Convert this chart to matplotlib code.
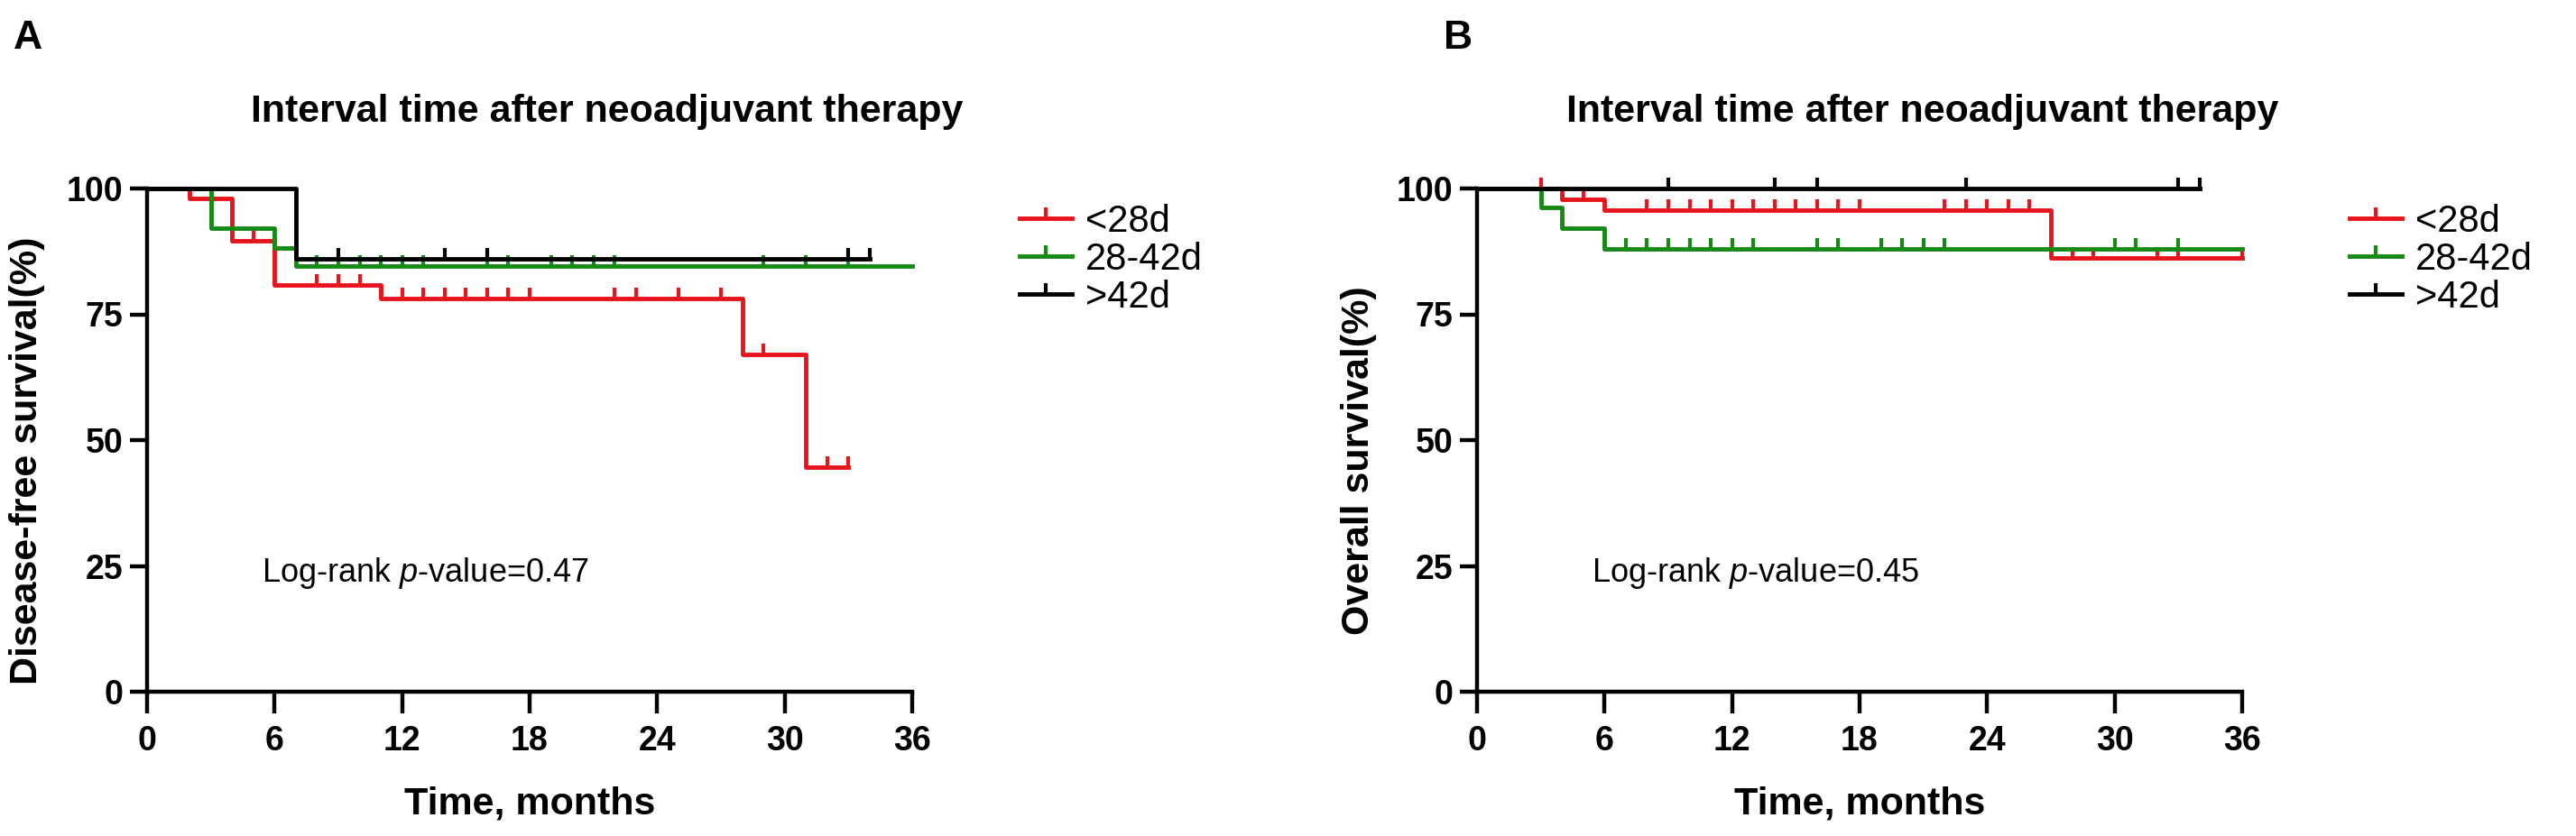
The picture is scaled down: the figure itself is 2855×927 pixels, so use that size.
import numpy as np
import matplotlib
matplotlib.use("Agg")
import matplotlib.pyplot as plt
from matplotlib.lines import Line2D

plt.rcParams['font.family'] = ['Liberation Sans', 'DejaVu Sans']
plt.rcParams['mathtext.fontset'] = 'custom'
plt.rcParams['mathtext.rm'] = 'Liberation Sans'
plt.rcParams['mathtext.it'] = 'Liberation Sans:italic'

groups = ['<28d', '28-42d', '>42d']
colors = ['#e8141b', '#168a16', '#000000']

# panel A: disease-free survival (step times, survival %, censor times)
dfs_times = [[0, 2, 4, 6, 11, 28, 31, 33],
             [0, 3, 6, 7, 36],
             [0, 7, 34]]
dfs_surv = [[100, 98.0, 89.6, 80.9, 78.1, 67.1, 44.7, 44.7],
            [100, 92.2, 88.1, 84.5, 84.5],
            [100, 86.0, 86.0]]
dfs_cens = [[5, 8, 9, 10, 12, 13, 14, 15, 16, 17, 18, 22, 23, 25, 27, 29, 32, 33],
            [8, 9, 10, 11, 12, 13, 16, 17, 19, 20, 21, 22, 29, 31, 33],
            [9, 14, 16, 33, 34]]

# panel B: overall survival
os_times = [[0, 4, 6, 27, 36],
            [0, 3, 4, 6, 36],
            [0, 34]]
os_surv = [[100, 97.8, 95.7, 86.2, 86.2],
           [100, 96.3, 92.2, 88.0, 88.0],
           [100, 100]]
os_cens = [[3, 5, 8, 9, 10, 11, 12, 13, 14, 15, 16, 17, 18, 22, 23, 24, 25, 26, 28, 29, 32, 33, 36],
           [7, 8, 9, 10, 11, 12, 13, 16, 17, 19, 20, 21, 22, 30, 31, 33],
           [9, 14, 16, 23, 33, 34]]

xticks = [0, 6, 12, 18, 24, 30, 36]
yticks = [0, 25, 50, 75, 100]

W, H = 2855, 927
fig = plt.figure(figsize=(W / 100, H / 100), dpi=100)


def px_axes(x0, x1, ytop, ybot):
    return fig.add_axes([x0 / W, 1 - ybot / H, (x1 - x0) / W, (ybot - ytop) / H])


def km_panel(ax, times, surv, cens, ylabel, ptext, ylpad):
    for t, s, c, col, lab in zip(times, surv, cens, colors, groups):
        ax.step(t, s, where='post', color=col, lw=3.5, clip_on=False, zorder=3)
        t = np.array(t)
        s = np.array(s)
        c = np.array(c)
        idx = np.searchsorted(t, c, side='right') - 1
        ax.plot(c, s[idx], ls='none', marker=2, ms=9, mew=3, color=col,
                clip_on=False, zorder=3)
    ax.set_xlim(0, 36)
    ax.set_ylim(0, 100)
    ax.set_xticks(xticks)
    ax.set_yticks(yticks)
    for side in ['top', 'right']:
        ax.spines[side].set_visible(False)
    for side in ['left', 'bottom']:
        ax.spines[side].set_linewidth(3.2)
    ax.tick_params(axis='x', length=17, width=3.2, labelsize=27, pad=10)
    ax.tick_params(axis='y', length=14, width=3.2, labelsize=27, pad=5)
    for lb in ax.get_xticklabels() + ax.get_yticklabels():
        lb.set_fontweight('bold')
    ax.set_xlabel('Time, months', fontsize=31, fontweight='bold', labelpad=22)
    ax.set_ylabel(ylabel, fontsize=31, fontweight='bold', labelpad=ylpad)
    ax.yaxis.label.set_y(0.46)
    ax.text(5.4, 23.5, ptext, fontsize=26, va='center')
    handles = [Line2D([], [], color=col, lw=3.5, marker=2, ms=9, mew=3)
               for col in colors]
    ax.legend(handles, groups, loc='upper left', bbox_to_anchor=(1.14, 0.97),
              frameon=False, fontsize=30, handlelength=1.4, handletextpad=0.35,
              labelspacing=0.05, borderpad=0, borderaxespad=0, numpoints=1)


axA = px_axes(163, 1011, 209, 767)
km_panel(axA, dfs_times, dfs_surv, dfs_cens, 'Disease-free survival(%)',
         r'Log-rank $\mathit{p}$-value=0.47', 17)
axB = px_axes(1637, 2485, 209, 767)
km_panel(axB, os_times, os_surv, os_cens, 'Overall survival(%)',
         r'Log-rank $\mathit{p}$-value=0.45', 16)

for tx, letter, lx in [(673, 'A', 15), (2131, 'B', 1600)]:
    fig.text(tx / W, 1 - 135 / H, 'Interval time after neoadjuvant therapy',
             ha='center', va='baseline', fontsize=31, fontweight='bold')
    fig.text(lx / W, 1 - 54 / H, letter, ha='left', va='baseline',
             fontsize=32, fontweight='bold')

fig.savefig('out.png', dpi=100)
